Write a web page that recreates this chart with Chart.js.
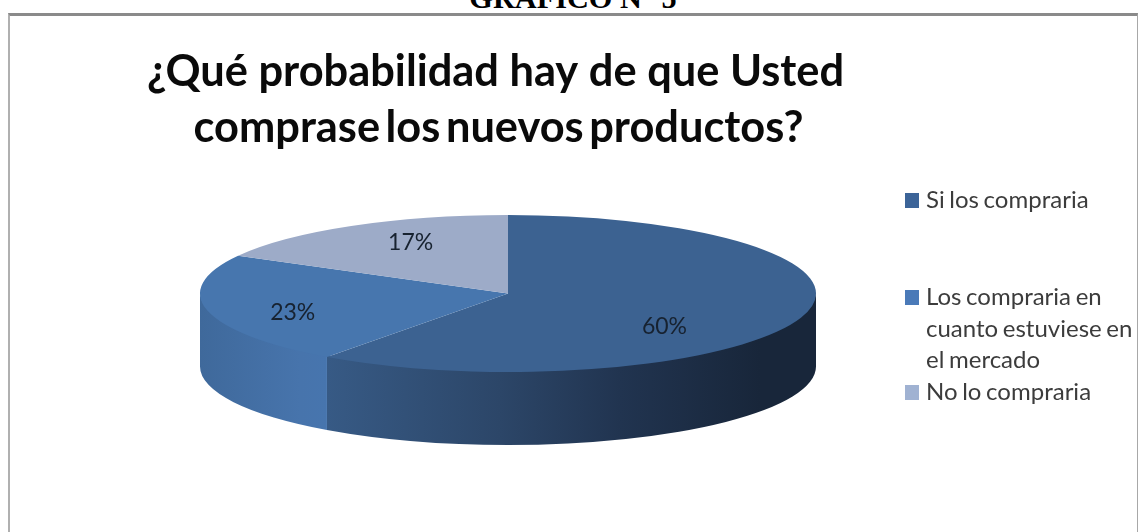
<!DOCTYPE html>
<html>
<head>
<meta charset="utf-8">
<title>Gráfico N° 5</title>
<style>
  html, body { margin: 0; padding: 0; background: #fff; overflow: hidden; }
  #page { position: relative; width: 1138px; height: 532px; overflow: hidden; }
  #heading {
    position: absolute; left: 4px; width: 1138px; top: -17px; text-align: center;
    font: bold 30.3px "Liberation Serif", serif; color: #000; line-height: 30px;
  }
  #frame {
    position: absolute; left: 8px; top: 13px; width: 1127px; height: 600px;
    border-top: 3px solid #8a8a8a; border-left: 2px solid #b0b0b0; border-right: 1px solid #a8a8a8;
  }
  canvas { position: absolute; left: 0; top: 0; }
</style>
</head>
<body>
<div id="page">
  <div id="heading">GRÁFICO N° 5</div>
  <div id="frame"></div>
  <canvas id="chart" width="1138" height="532"></canvas>
</div>
<script src="https://cdn.jsdelivr.net/npm/chart.js@4/dist/chart.umd.js"></script>
<script>
const categories = ['Si los compraria', 'Los compraria en cuanto estuviese en el mercado', 'No lo compraria'];
const shares = [60, 23, 17];
const titleLines = ['¿Qué probabilidad hay de que Usted', 'comprase los nuevos productos?'];
const legendLines = [['Si los compraria'], ['Los compraria en', 'cuanto estuviese en', 'el mercado'], ['No lo compraria']];

const topColors = ['#3c6291', '#4776ae', '#9dabc8'];
const swatchColors = ['#3c6498', '#4a7ab8', '#a0b2d2'];

// the pie is flattened into an ellipse and given a wall below its rim
const radiusX = 308;
const tilt = 78.5 / 308;
const wallDepth = 73;

// label nudges from the middle of each slice
const labelNudge = [[10, 21], [-65, 11], [-19, -17]];

// wall shading per slice, left to right
const wallStops = [
  [[327, '#375a85'], [500, '#2c4668'], [620, '#213450'], [760, '#18263a'], [815, '#18263a']],
  [[200, '#3f699b'], [300, '#4774ac'], [327, '#4775ae']],
  []
];

const pie3d = {
  id: 'pie3d',
  beforeDatasetDraw(chart, args) {
    const { ctx } = chart;
    args.meta.data.forEach((arc, i) => {
      const from = Math.max(arc.startAngle, 0);
      const to = Math.min(arc.endAngle, Math.PI);
      if (to <= from) return;
      const grad = ctx.createLinearGradient(200, 0, 815, 0);
      wallStops[i].forEach(([x, c]) => grad.addColorStop((x - 200) / 615, c));
      const ry = arc.outerRadius * tilt;
      ctx.save();
      ctx.fillStyle = grad;
      ctx.beginPath();
      ctx.ellipse(arc.x, arc.y + wallDepth, arc.outerRadius, ry, 0, from, to);
      // run the wall's upper edge under the top face so no seam shows
      ctx.ellipse(arc.x, arc.y - 2, arc.outerRadius, ry, 0, to, from, true);
      ctx.closePath();
      ctx.fill();
      ctx.restore();
    });
    const { x, y } = args.meta.data[0];
    ctx.save();
    ctx.translate(x, y);
    ctx.scale(1, tilt);
    ctx.translate(-x, -y);
  },
  afterDatasetDraw(chart) {
    chart.ctx.restore();
  },
  afterDraw(chart) {
    const { ctx } = chart;
    const meta = chart.getDatasetMeta(0);
    const total = shares.reduce((a, b) => a + b, 0);
    ctx.save();

    // slice percentages
    ctx.font = '23px Lato';
    ctx.fillStyle = '#172230';
    ctx.textAlign = 'center';
    ctx.textBaseline = 'middle';
    meta.data.forEach((arc, i) => {
      const mid = (arc.startAngle + arc.endAngle) / 2;
      const lx = arc.x + Math.cos(mid) * arc.outerRadius * 0.5 + labelNudge[i][0];
      const ly = arc.y + Math.sin(mid) * arc.outerRadius * tilt * 0.5 + labelNudge[i][1];
      ctx.fillText(Math.round(shares[i] / total * 100) + '%', lx, ly);
    });

    // title, set left of the pie's centre
    ctx.font = 'bold 43.4px Lato';
    ctx.fillStyle = '#0a0a0a';
    ctx.textBaseline = 'alphabetic';
    ctx.fillText(titleLines[0], 495.5, 86);
    ctx.wordSpacing = '-5px';
    ctx.fillText(titleLines[1], 498.5, 142);

    // legend rows with uneven spacing
    const rows = [208, 305, 400];
    ctx.font = '24px Lato';
    ctx.wordSpacing = '-1.5px';
    ctx.textAlign = 'left';
    legendLines.forEach((lines, i) => {
      ctx.fillStyle = swatchColors[i];
      ctx.fillRect(905, rows[i] - 15, 14, 15);
      ctx.fillStyle = '#3c3c3c';
      lines.forEach((line, j) => ctx.fillText(line, 926, rows[i] + j * 31.5));
    });
    ctx.restore();
  }
};

new Chart(document.getElementById('chart'), {
  type: 'pie',
  data: {
    labels: categories,
    datasets: [{
      data: shares,
      backgroundColor: topColors,
      borderWidth: 0,
      radius: radiusX
    }]
  },
  options: {
    responsive: false,
    animation: false,
    layout: { padding: { top: 55, right: 122 } },
    plugins: { legend: { display: false }, tooltip: { enabled: false } }
  },
  plugins: [pie3d]
});
</script>
</body>
</html>
